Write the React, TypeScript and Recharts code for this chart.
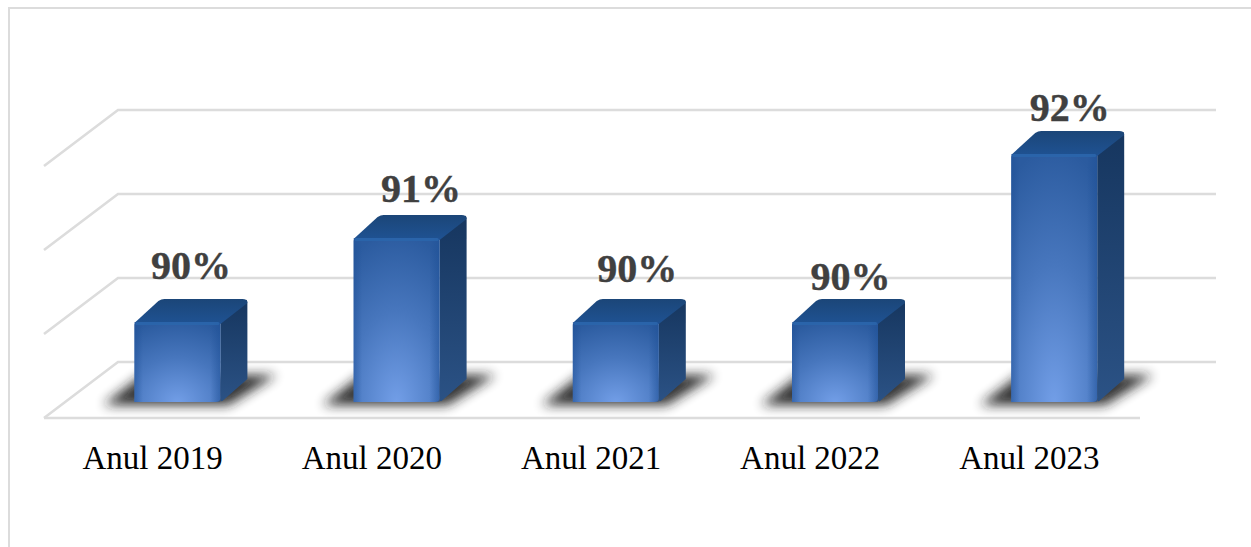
import React from 'react';
import { BarChart, Bar, XAxis, YAxis, CartesianGrid, LabelList } from 'recharts';

const categories = ['Anul 2019', 'Anul 2020', 'Anul 2021', 'Anul 2022', 'Anul 2023'];
const values = [90, 91, 90, 90, 92];
const yTicks = [89, 90, 91, 92];

// hand placed data labels in the original, offset from the centre of the bar
const labelNudgeX = [0, 11, 8, 2, 2];
const labelNudgeY = [-43, -36, -40, -32, -33];

const chartData = categories.map((name, i) => ({ name, value: values[i] }));

const WIDTH = 1251;
const HEIGHT = 547;
const GRID_COLOR = '#dcdcdc';
const FONT = '"Liberation Serif", serif';

// fake 3D: how far the back wall and the box depth are shifted
const WALL_DX = 74;
const WALL_DY = -56;
const DEPTH_DX = 27;
const DEPTH_DY = -23;
const BAR_SHIFT_X = 23.4;
const BAR_TOP_SHIFT = -12;
const BAR_BASE_SHIFT = -16;

const GridLine = (props: any) => {
  const { x1, x2, y1 } = props;
  const isFloor = y1 > 400;
  return (
    <g fill="none" stroke={GRID_COLOR} strokeWidth={2.6}>
      <polyline
        points={`${x1},${y1} ${x1 + WALL_DX},${y1 + WALL_DY} ${x2 + WALL_DX + 2},${y1 + WALL_DY}`}
      />
      {isFloor && <line x1={x1} y1={y1} x2={x2} y2={y1} />}
    </g>
  );
};

const Box3D = (props: any) => {
  const { x, y, width, height } = props;
  const left = x + BAR_SHIFT_X;
  const right = left + width;
  const top = y + BAR_TOP_SHIFT;
  const base = y + height + BAR_BASE_SHIFT;
  const dx = DEPTH_DX;
  const dy = DEPTH_DY;
  return (
    <g>
      <polygon
        points={`${left - 31},${base + 3} ${right + 8},${base + 3} ${right + 56},${base - 27} ${left + 8},${base - 27}`}
        fill="#1c1c1c"
        opacity={0.9}
        filter="url(#floorShadow)"
      />
      <path
        d={`M${right},${top + 1} L${right + dx - 2},${top + dy + 1} Q${right + dx},${top + dy} ${right + dx},${top + dy + 5}
            L${right + dx},${base + dy} L${right + 2},${base - 1} Q${right},${base} ${right},${base - 3} Z`}
        fill="url(#sideFace)"
      />
      <path
        d={`M${left},${top + 1} L${left + dx - 3},${top + dy + 2} Q${left + dx},${top + dy} ${left + dx + 3},${top + dy}
            L${right + dx - 5},${top + dy} Q${right + dx},${top + dy} ${right + dx},${top + dy + 4}
            L${right},${top + 2} Z`}
        fill="url(#topFace)"
      />
      <path
        d={`M${left},${top + 3} Q${left},${top} ${left + 3},${top} L${right - 3},${top} Q${right},${top} ${right},${top + 3}
            L${right},${base - 4} Q${right},${base} ${right - 5},${base} L${left},${base} Z`}
        fill="url(#frontFace)"
      />
      <rect x={left} y={top} width={width} height={base - top} fill="url(#frontEdges)" />
      <rect x={left + 1} y={top} width={width - 2} height={3} rx={1.5} fill="#2a66ad" opacity={0.8} />
    </g>
  );
};

const BarValueLabel = (props: any) => {
  const { x, y, width, value, index } = props;
  return (
    <text
      x={x + width / 2 + BAR_SHIFT_X + 13.5 + labelNudgeX[index]}
      y={y + BAR_TOP_SHIFT + labelNudgeY[index]}
      textAnchor="middle"
      fontFamily={FONT}
      fontWeight="bold"
      fontSize={40}
      fill="#404040"
      stroke="#404040"
      strokeWidth={0.4}
    >
      {`${value}%`}
    </text>
  );
};

export default function App() {
  return (
    <div style={{ position: 'absolute', left: 0, top: 0, width: WIDTH, height: HEIGHT, overflow: 'hidden', background: '#fff' }}>
      <div
        style={{
          position: 'absolute',
          left: 8,
          top: 7,
          right: 0,
          bottom: 0,
          borderTop: `2px solid ${GRID_COLOR}`,
          borderLeft: `2px solid ${GRID_COLOR}`,
        }}
      />
      <BarChart
        width={WIDTH}
        height={HEIGHT}
        data={chartData}
        margin={{ top: 166, right: 111, bottom: 69, left: 44 }}
        style={{ position: 'absolute', left: 0, top: 0 }}
      >
        <defs>
          <radialGradient id="frontFace" cx="0.5" cy="1.02" r="1.05">
            <stop offset="0" stopColor="#739fe8" />
            <stop offset="0.55" stopColor="#4776bd" />
            <stop offset="1" stopColor="#2b5b9f" />
          </radialGradient>
          <linearGradient id="frontEdges" x1="0" y1="0" x2="1" y2="0">
            <stop offset="0" stopColor="#1d4f96" stopOpacity={0.45} />
            <stop offset="0.1" stopColor="#1d4f96" stopOpacity={0} />
            <stop offset="0.88" stopColor="#1d4f96" stopOpacity={0} />
            <stop offset="1" stopColor="#1d4f96" stopOpacity={0.5} />
          </linearGradient>
          <linearGradient id="sideFace" x1="0" y1="0" x2="0" y2="1">
            <stop offset="0" stopColor="#16365f" />
            <stop offset="1" stopColor="#2b5285" />
          </linearGradient>
          <linearGradient id="topFace" x1="0" y1="0" x2="0" y2="1">
            <stop offset="0" stopColor="#1b4678" />
            <stop offset="1" stopColor="#1f5293" />
          </linearGradient>
          <filter id="floorShadow" x="-40%" y="-100%" width="180%" height="300%">
            <feGaussianBlur stdDeviation="6" />
          </filter>
        </defs>
        <CartesianGrid vertical={false} horizontal={(p: any) => <GridLine key={p.key ?? p.y1} {...p} />} syncWithTicks />
        <XAxis
          dataKey="name"
          height={60}
          axisLine={false}
          tickLine={false}
          tickMargin={22}
          interval={0}
          tick={{ fontFamily: FONT, fontSize: 33, fill: '#000', dx: -1 }}
        />
        <YAxis hide width={0} domain={[89, 92]} ticks={yTicks} />
        <Bar dataKey="value" barSize={86} shape={<Box3D />} isAnimationActive={false}>
          <LabelList dataKey="value" content={<BarValueLabel />} />
        </Bar>
      </BarChart>
    </div>
  );
}
